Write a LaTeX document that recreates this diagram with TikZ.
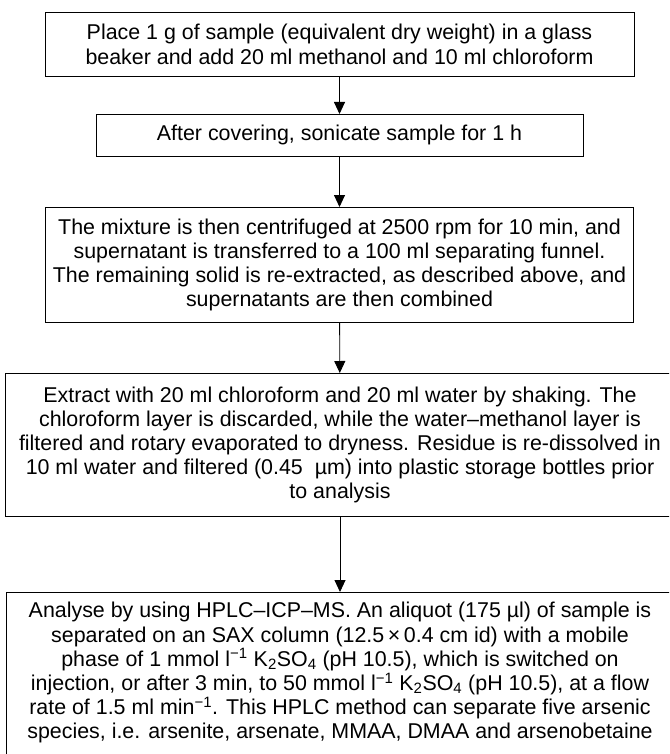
\documentclass[tikz,border=0pt]{standalone}
\usepackage{fontspec}
\setmainfont{Liberation Sans}
\usetikzlibrary{arrows.meta}
\begin{document}
\begin{tikzpicture}[x=1pt,y=-1pt,
  box/.style={draw, line width=0.9pt, align=center, inner xsep=0pt, inner ysep=0pt,
    font=\fontsize{21.4}{24.2}\selectfont},
  arr/.style={-{Triangle[length=12pt,width=11pt]}, line width=0.9pt}]
\useasboundingbox (0,0) rectangle (669,754);
\clip (0,0) rectangle (669,754);
\node[box, anchor=north, minimum width=589pt, minimum height=64pt] (b1) at (339.5,12)
  {Place 1 g of sample (equivalent dry weight) in a glass\\
   beaker and add 20 ml methanol and 10 ml chloroform};
\node[box, anchor=north, minimum width=487pt, minimum height=42pt] (b2) at (339.5,114)
  {After covering, sonicate sample for 1 h};
\node[box, anchor=north, minimum width=588pt, minimum height=115pt] (b3) at (339.5,207)
  {The mixture is then centrifuged at 2500 rpm for 10 min, and\\
   supernatant is transferred to a 100 ml separating funnel.\\
   The remaining solid is re-extracted, as described above, and\\
   supernatants are then combined};
\node[box, anchor=north, minimum width=670pt, minimum height=143pt] (b4) at (340,373)
  {Extract with 20 ml chloroform and 20 ml water by shaking. The\\
   chloroform layer is discarded, while the water–methanol layer is\\
   filtered and rotary evaporated to dryness. Residue is re-dissolved in\\
   10 ml water and filtered (0.45~ µm) into plastic storage bottles prior\\
   to analysis};
\node[box, anchor=north, minimum width=668pt, inner ysep=10pt] (b5) at (340,592)
  {Analyse by using HPLC–ICP–MS. An aliquot (175 µl) of sample is\\
   separated on an SAX column (12.5\,×\,0.4 cm id) with a mobile\\
   phase of 1 mmol l\textsuperscript{−1} K\textsubscript{2}SO\textsubscript{4} (pH 10.5), which is switched on\\
   injection, or after 3 min, to 50 mmol l\textsuperscript{−1} K\textsubscript{2}SO\textsubscript{4} (pH 10.5), at a flow\\
   rate of 1.5 ml min\textsuperscript{−1}. This HPLC method can separate five arsenic\\
   species, i.e. arsenite, arsenate, MMAA, DMAA and arsenobetaine\\[24pt]\mbox{}};
\draw[arr] (b1) -- (b2);
\draw[arr] (b2) -- (b3);
\draw[arr] (b3) -- (b4);
\draw[arr] (b4) -- (b5);
\end{tikzpicture}
\end{document}
